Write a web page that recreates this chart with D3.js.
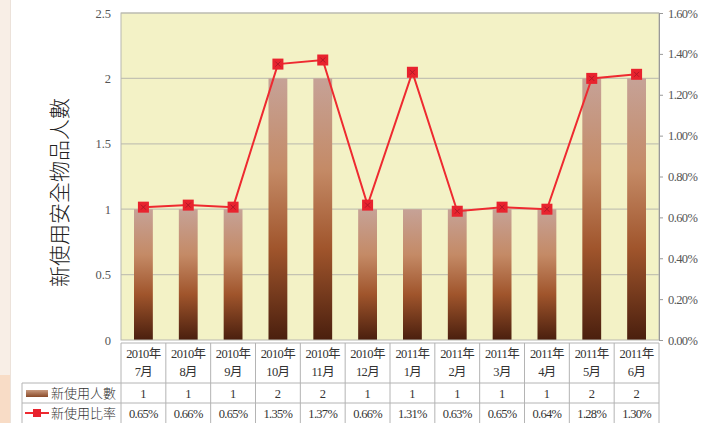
<!DOCTYPE html>
<html>
<head>
<meta charset="utf-8">
<script src="https://cdn.jsdelivr.net/npm/d3@7"></script>
<style>
  body { margin: 0; background: #fff; }
  svg { display: block; }
</style>
</head>
<body>
<div id="chart"></div>
<script>
// data
const years = ["2010年", "2010年", "2010年", "2010年", "2010年", "2010年", "2011年", "2011年", "2011年", "2011年", "2011年", "2011年"];
const months = ["7月", "8月", "9月", "10月", "11月", "12月", "1月", "2月", "3月", "4月", "5月", "6月"];
const counts = [1, 1, 1, 2, 2, 1, 1, 1, 1, 1, 2, 2];
const rates = [0.65, 0.66, 0.65, 1.35, 1.37, 0.66, 1.31, 0.63, 0.65, 0.64, 1.28, 1.30];
const leftTicks = [0, 0.5, 1, 1.5, 2, 2.5];
const rightTicks = [0, 0.2, 0.4, 0.6, 0.8, 1.0, 1.2, 1.4, 1.6];
const seriesNames = ["新使用人數", "新使用比率"];
const yTitle = "新使用安全物品人數";

const svgWidth = 718, svgHeight = 423;
const plot = { left: 121, top: 13, right: 659, bottom: 340 };
const tableLeft = 22;
const headerBottom = 383, rowH = 20;

const svg = d3.select("#chart").append("svg")
    .attr("width", svgWidth)
    .attr("height", svgHeight);

const defs = svg.append("defs");
const grad = defs.append("linearGradient")
    .attr("id", "barGrad")
    .attr("x1", 0).attr("y1", 0).attr("x2", 0).attr("y2", 1);
grad.append("stop").attr("offset", "0%").attr("stop-color", "#c6a297");
grad.append("stop").attr("offset", "35%").attr("stop-color", "#c48a66");
grad.append("stop").attr("offset", "65%").attr("stop-color", "#a0552c");
grad.append("stop").attr("offset", "100%").attr("stop-color", "#4a1f0e");

const legGrad = defs.append("linearGradient")
    .attr("id", "legGrad")
    .attr("x1", 0).attr("y1", 0).attr("x2", 0).attr("y2", 1);
legGrad.append("stop").attr("offset", "0%").attr("stop-color", "#c89a80");
legGrad.append("stop").attr("offset", "100%").attr("stop-color", "#8a4a28");

// left page strip
svg.append("rect").attr("x", 0).attr("y", 0).attr("width", 10).attr("height", svgHeight).attr("fill", "#f8eee6");
svg.append("rect").attr("x", 0).attr("y", 375).attr("width", 10).attr("height", 48).attr("fill", "#f8dcc6");
svg.append("rect").attr("x", 10).attr("y", 0).attr("width", 1).attr("height", svgHeight).attr("fill", "#ece2da");

// scales
const x = d3.scaleBand()
    .domain(d3.range(months.length))
    .range([plot.left, plot.right])
    .paddingInner(0.58)
    .paddingOuter(0.29);
const xCol = d3.scaleBand()
    .domain(d3.range(months.length))
    .range([plot.left, plot.right]);
const yLeft = d3.scaleLinear().domain([0, 2.5]).range([plot.bottom, plot.top]);
const yRight = d3.scaleLinear().domain([0, 1.6]).range([plot.bottom, plot.top]);

// plot background
svg.append("rect")
    .attr("x", plot.left).attr("y", plot.top)
    .attr("width", plot.right - plot.left).attr("height", plot.bottom - plot.top)
    .attr("fill", "#f3f2c6");

// gridlines
svg.append("g").selectAll("line")
    .data(leftTicks.filter(d => d > 0))
    .enter().append("line")
    .attr("x1", plot.left).attr("x2", plot.right)
    .attr("y1", d => yLeft(d)).attr("y2", d => yLeft(d))
    .attr("stroke", "#c4c3b2").attr("stroke-width", 1.2);

// bars
svg.append("g").selectAll("rect")
    .data(counts)
    .enter().append("rect")
    .attr("x", (d, i) => x(i))
    .attr("y", d => yLeft(d))
    .attr("width", x.bandwidth())
    .attr("height", d => yLeft(0) - yLeft(d))
    .attr("fill", "url(#barGrad)");

// plot border
svg.append("rect")
    .attr("x", plot.left).attr("y", plot.top)
    .attr("width", plot.right - plot.left).attr("height", plot.bottom - plot.top)
    .attr("fill", "none").attr("stroke", "#b8b8b0").attr("stroke-width", 1);

// left axis
const leftAxis = svg.append("g")
    .attr("transform", "translate(" + plot.left + ",0)")
    .call(d3.axisLeft(yLeft).tickValues(leftTicks).tickSize(0).tickPadding(10).tickFormat(d3.format("")));
leftAxis.select(".domain").remove();
leftAxis.selectAll("text")
    .style("font-family", "Liberation Serif, serif")
    .style("font-size", "12.5px")
    .style("fill", "#555");

// right axis
const rightAxis = svg.append("g")
    .attr("transform", "translate(" + plot.right + ",0)")
    .call(d3.axisRight(yRight).tickValues(rightTicks).tickSize(4).tickPadding(5).tickFormat(d => d.toFixed(2) + "%"));
rightAxis.select(".domain").attr("stroke", "#999");
rightAxis.selectAll(".tick line").attr("stroke", "#999");
rightAxis.selectAll("text")
    .style("font-family", "Liberation Serif, serif")
    .style("font-size", "12.5px")
    .style("letter-spacing", "-0.6px")
    .style("fill", "#555");

// line
const line = d3.line()
    .x((d, i) => x(i) + x.bandwidth() / 2)
    .y(d => yRight(d));
svg.append("path")
    .datum(rates)
    .attr("d", line)
    .attr("fill", "none")
    .attr("stroke", "#ee2a30")
    .attr("stroke-width", 2);

const markers = svg.append("g").selectAll("g")
    .data(rates)
    .enter().append("g")
    .attr("transform", (d, i) => "translate(" + (x(i) + x.bandwidth() / 2) + "," + yRight(d) + ")");
markers.append("rect")
    .attr("x", -5.5).attr("y", -5.5).attr("width", 11).attr("height", 11)
    .attr("fill", "#e8232e");
markers.append("path")
    .attr("d", "M-2.5,-2.5L2.5,2.5M-2.5,2.5L2.5,-2.5")
    .attr("stroke", "#b01828").attr("stroke-width", 1);

// y title
svg.append("text")
    .attr("transform", "translate(67," + ((plot.top + plot.bottom) / 2 + 16) + ") rotate(-90)")
    .attr("text-anchor", "middle")
    .style("font-family", "Noto Sans CJK TC, sans-serif")
    .style("font-size", "21px")
    .style("font-weight", 300)
    .style("fill", "#222")
    .text(yTitle);

// data table
const table = svg.append("g");
const lineColor = "#b4b4b4";
const tableBottom = headerBottom + 2 * rowH;

// horizontal lines
table.append("line").attr("x1", plot.left).attr("x2", plot.right)
    .attr("y1", plot.bottom + 3).attr("y2", plot.bottom + 3).attr("stroke", lineColor);
[headerBottom, headerBottom + rowH].forEach(yy => {
    table.append("line").attr("x1", tableLeft).attr("x2", plot.right)
        .attr("y1", yy).attr("y2", yy).attr("stroke", lineColor);
});
// vertical lines
xCol.domain().forEach(i => {
    table.append("line")
        .attr("x1", xCol(i)).attr("x2", xCol(i))
        .attr("y1", plot.bottom + 3).attr("y2", tableBottom + 2)
        .attr("stroke", lineColor);
});
table.append("line").attr("x1", plot.right).attr("x2", plot.right)
    .attr("y1", plot.bottom + 3).attr("y2", tableBottom + 2).attr("stroke", lineColor);
table.append("line").attr("x1", tableLeft).attr("x2", tableLeft)
    .attr("y1", headerBottom).attr("y2", tableBottom + 2).attr("stroke", lineColor);

const cellFont = "Liberation Serif, 'Noto Sans CJK TC', serif";
table.selectAll(".yr")
    .data(years)
    .enter().append("text")
    .attr("x", (d, i) => xCol(i) + xCol.bandwidth() / 2)
    .attr("y", 358)
    .attr("text-anchor", "middle")
    .style("font-family", cellFont)
    .style("font-size", "12.5px")
    .style("letter-spacing", "-0.6px")
    .style("fill", "#333")
    .text(d => d);
table.selectAll(".mo")
    .data(months)
    .enter().append("text")
    .attr("x", (d, i) => xCol(i) + xCol.bandwidth() / 2)
    .attr("y", 376)
    .attr("text-anchor", "middle")
    .style("font-family", cellFont)
    .style("font-size", "12.5px")
    .style("letter-spacing", "-0.6px")
    .style("fill", "#333")
    .text(d => d);
table.selectAll(".cnt")
    .data(counts)
    .enter().append("text")
    .attr("x", (d, i) => xCol(i) + xCol.bandwidth() / 2)
    .attr("y", headerBottom + 15)
    .attr("text-anchor", "middle")
    .style("font-family", cellFont)
    .style("font-size", "12.5px")
    .style("fill", "#333")
    .text(d => d);
table.selectAll(".rate")
    .data(rates)
    .enter().append("text")
    .attr("x", (d, i) => xCol(i) + xCol.bandwidth() / 2)
    .attr("y", headerBottom + rowH + 15)
    .attr("text-anchor", "middle")
    .style("font-family", cellFont)
    .style("font-size", "12.5px")
    .style("letter-spacing", "-0.7px")
    .style("fill", "#333")
    .text(d => d.toFixed(2) + "%");

// legend keys in table
table.append("rect")
    .attr("x", 26).attr("y", headerBottom + 7).attr("width", 22).attr("height", 7)
    .attr("fill", "url(#legGrad)");
table.append("line")
    .attr("x1", 25).attr("x2", 49)
    .attr("y1", headerBottom + rowH + 10).attr("y2", headerBottom + rowH + 10)
    .attr("stroke", "#ee2a30").attr("stroke-width", 2);
table.append("rect")
    .attr("x", 33).attr("y", headerBottom + rowH + 6).attr("width", 8).attr("height", 8)
    .attr("fill", "#e8232e");
table.selectAll(".leg")
    .data(seriesNames)
    .enter().append("text")
    .attr("x", 51)
    .attr("y", (d, i) => headerBottom + i * rowH + 15)
    .style("font-family", "Noto Sans CJK TC, sans-serif")
    .style("font-size", "13px")
    .style("font-weight", 300)
    .style("fill", "#333")
    .text(d => d);
</script>
</body>
</html>
